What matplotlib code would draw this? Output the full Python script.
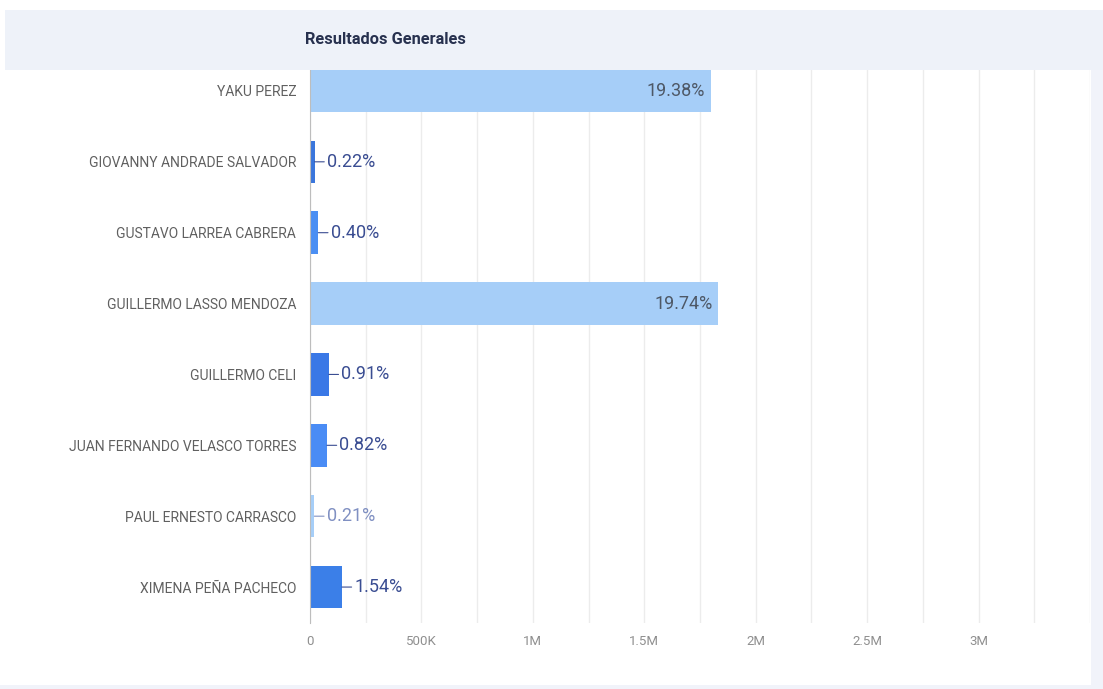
import matplotlib.pyplot as plt
import matplotlib.patches as mpatches
from matplotlib.ticker import FuncFormatter, MultipleLocator

# Candidates and votes, top to bottom
candidates = ["YAKU PEREZ", "GIOVANNY ANDRADE SALVADOR", "GUSTAVO LARREA CABRERA",
              "GUILLERMO LASSO MENDOZA", "GUILLERMO CELI", "JUAN FERNANDO VELASCO TORRES",
              "PAUL ERNESTO CARRASCO", "XIMENA PEÑA PACHECO"]
votes = [1798000, 20400, 37100, 1832000, 84400, 76100, 19500, 143000]
pct_labels = ["19.38%", "0.22%", "0.40%", "19.74%", "0.91%", "0.82%", "0.21%", "1.54%"]
bar_colors = ["#a6cef8", "#3a76dc", "#4b8ff3", "#a6cef8", "#3a78e6", "#4a8cf5", "#a6cef8", "#3b7fe8"]
label_colors = ["#4e5866", "#3a4d92", "#3a4d92", "#4e5866", "#3a4d92", "#3a4d92", "#8090c2", "#3a4d92"]

plt.rcParams['font.family'] = ['Roboto', 'DejaVu Sans']

W, H = 1103, 689
fig = plt.figure(figsize=(W / 100, H / 100), dpi=100)
fig.patch.set_facecolor("white")

# header band, right strip and bottom strip
band = "#eef2f9"
fig.patches.append(mpatches.Rectangle((5 / W, 1 - 70 / H), 1, 60 / H, transform=fig.transFigure,
                                      facecolor=band, edgecolor="none", zorder=0))
fig.patches.append(mpatches.Rectangle((1091 / W, 0), 12 / W, 1 - 70 / H, transform=fig.transFigure,
                                      facecolor="#f1f3fa", edgecolor="none", zorder=0))
fig.patches.append(mpatches.Rectangle((0, 0), 1, 4 / H, transform=fig.transFigure,
                                      facecolor="#f1f3fa", edgecolor="none", zorder=0))
fig.text(305 / W, 1 - 40 / H, "Resultados Generales", fontsize=11.8, fontweight="bold",
         color="#27314f", va="center", ha="left")

ax = fig.add_axes([310 / W, 66.5 / H, 780 / W, 567 / H])
ax.set_facecolor("none")
ypos = list(range(len(candidates)))
ax.barh(ypos, votes, height=0.6, color=bar_colors, zorder=2)
ax.set_ylim(len(candidates) - 0.5, -0.5)
ax.set_xlim(0, 3500000)

ax.set_yticks(ypos)
ax.set_yticklabels(candidates, fontsize=10, color="#606060")
ax.xaxis.set_major_locator(MultipleLocator(500000))
ax.xaxis.set_minor_locator(MultipleLocator(250000))


def fmt(v, pos):
    if v == 0:
        return "0"
    if v >= 1000000:
        return f"{v / 1000000:g}M"
    return f"{v / 1000:g}K"


ax.xaxis.set_major_formatter(FuncFormatter(fmt))
ax.set_xticks([0, 500000, 1000000, 1500000, 2000000, 2500000, 3000000])
ax.tick_params(axis="x", which="both", length=0, labelsize=9.5, labelcolor="#8f8f8f", pad=9)
ax.tick_params(axis="y", length=0, pad=10)

ax.grid(axis="x", which="both", color="#ececec", lw=1, zorder=0)
for s in ["top", "right", "bottom"]:
    ax.spines[s].set_visible(False)
ax.spines["left"].set_color("#bdbdbd")
ax.spines["left"].set_zorder(3)

# value labels
for y, v, lab, c in zip(ypos, votes, pct_labels, label_colors):
    if v > 1000000:
        ax.annotate(lab, (v, y), xytext=(-4, 0), textcoords="offset points",
                    ha="right", va="center", fontsize=13, color=c, zorder=4)
    else:
        ax.annotate(lab, (v, y), xytext=(9, 0), textcoords="offset points",
                    ha="left", va="center", fontsize=13, color=c, zorder=4,
                    arrowprops=dict(arrowstyle="-", color=c, lw=0.8, shrinkA=0, shrinkB=0))

fig.savefig("out.png", dpi=100, facecolor="white")
